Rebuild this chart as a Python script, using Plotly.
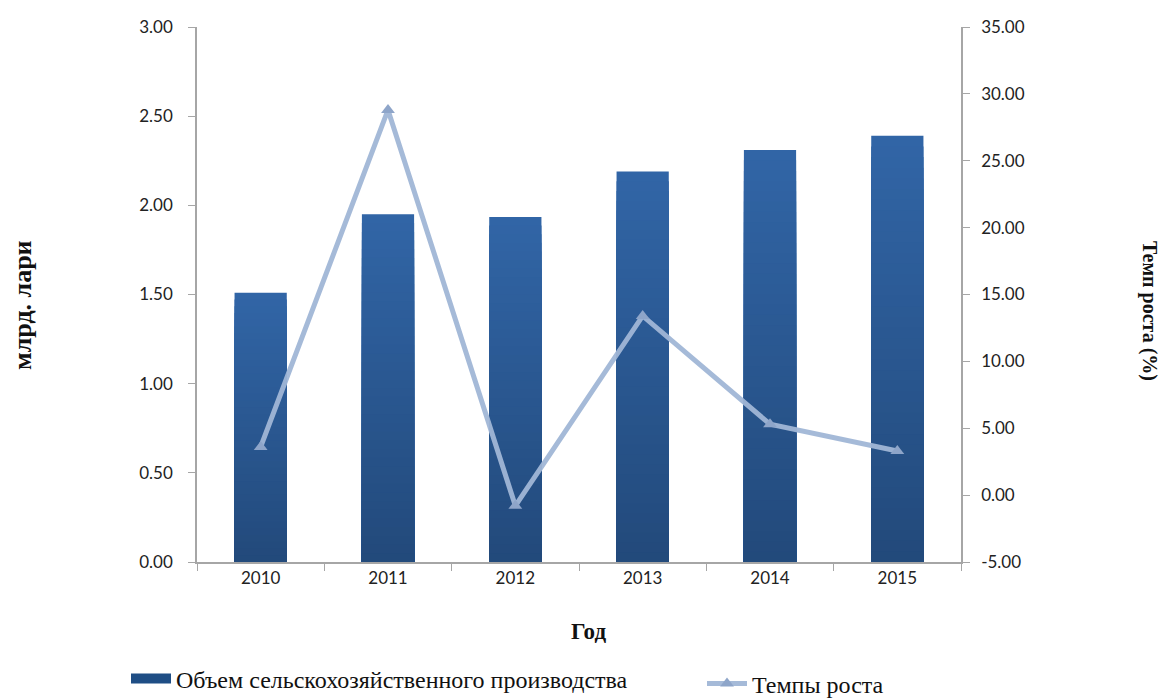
import plotly.graph_objects as go

# Agricultural output (bn GEL) and its annual growth rate (%)
years = ["2010", "2011", "2012", "2013", "2014", "2015"]
output_bn = [1.51, 1.95, 1.935, 2.19, 2.31, 2.39]
growth_pct = [3.6, 28.8, -0.8, 13.4, 5.3, 3.3]

left_ticks = [0, 0.5, 1.0, 1.5, 2.0, 2.5, 3.0]
right_ticks = [-5, 0, 5, 10, 15, 20, 25, 30, 35]

TOP = (49, 101, 166)
BOTTOM = (34, 73, 122)
STEPS = 40


def mix(t):
    r, g, b = (round(BOTTOM[i] + (TOP[i] - BOTTOM[i]) * t) for i in range(3))
    return f"rgb({r},{g},{b})"


fig = go.Figure()

# Vertical gradient on the bars: overlay progressively shorter, darker bars
for k in range(STEPS, 0, -1):
    frac = k / STEPS
    fig.add_trace(go.Bar(
        x=years,
        y=[v * frac for v in output_bn],
        marker=dict(color=mix(frac), line=dict(width=0)),
        width=0.41,
        name="Объем сельскохозяйственного производства",
        showlegend=False,
        hoverinfo="skip" if k != STEPS else None,
        yaxis="y",
    ))

# Legend swatch for the bar series (wide rectangle)
fig.add_trace(go.Scatter(
    x=[None], y=[None],
    mode="lines",
    name="Объем сельскохозяйственного производства",
    line=dict(color="#1F4E85", width=14),
    legend="legend",
    hoverinfo="skip",
))

fig.add_trace(go.Scatter(
    x=years,
    y=growth_pct,
    mode="lines+markers",
    name="Темпы роста",
    line=dict(color="rgba(160,182,214,0.95)", width=5),
    marker=dict(symbol="triangle-up", size=12, color="#8EA5C9"),
    legend="legend2",
    yaxis="y2",
))

tick_font = dict(family="Lato, Open Sans, sans-serif", size=17, color="#222222")
legend_font = dict(family="Liberation Serif, serif", size=24, color="#111111")
axis_col = "#A6A6A6"

fig.update_layout(
    width=1165,
    height=700,
    margin=dict(l=197, r=204, t=27, b=138, autoexpand=False),
    paper_bgcolor="white",
    plot_bgcolor="white",
    barmode="overlay",
    showlegend=True,
    xaxis=dict(
        type="category",
        range=[-0.5, 5.5],
        showgrid=False,
        showline=True,
        linecolor=axis_col,
        linewidth=1.5,
        ticks="outside",
        tickson="boundaries",
        ticklen=7,
        tickcolor=axis_col,
        tickfont=tick_font,
        zeroline=False,
    ),
    yaxis=dict(
        range=[0, 3],
        tickvals=left_ticks,
        ticktext=[f"{v:.2f}" for v in left_ticks],
        showgrid=False,
        zeroline=False,
        showline=True,
        linecolor=axis_col,
        linewidth=1.5,
        ticks="outside",
        ticklen=7,
        tickcolor=axis_col,
        tickfont=tick_font,
        ticklabelstandoff=12,
    ),
    yaxis2=dict(
        range=[-5, 35],
        tickvals=right_ticks,
        ticktext=[f"{v:.2f}" for v in right_ticks],
        overlaying="y",
        side="right",
        showgrid=False,
        zeroline=False,
        showline=True,
        linecolor=axis_col,
        linewidth=1.5,
        ticks="outside",
        ticklen=7,
        tickcolor=axis_col,
        tickfont=tick_font,
        ticklabelstandoff=8,
    ),
    legend=dict(
        orientation="h",
        x=(126 - 197) / 764,
        xanchor="left",
        y=(562 - 679) / 535,
        yanchor="middle",
        font=legend_font,
        itemwidth=40,
        bgcolor="rgba(0,0,0,0)",
    ),
    legend2=dict(
        orientation="h",
        x=(702 - 197) / 764,
        xanchor="left",
        y=(562 - 684) / 535,
        yanchor="middle",
        font=legend_font,
        itemwidth=40,
        bgcolor="rgba(0,0,0,0)",
    ),
    annotations=[
        dict(text="<b>млрд. лари</b>", textangle=-90, xref="paper", yref="paper",
             x=(22 - 197) / 764, y=(562 - 305) / 535, showarrow=False,
             xanchor="center", yanchor="middle",
             font=dict(family="Liberation Serif, serif", size=26, color="#111111")),
        dict(text="<b>Темп роста (%)</b>", textangle=90, xref="paper", yref="paper",
             x=(1149 - 197) / 764, y=(562 - 311) / 535, showarrow=False,
             xanchor="center", yanchor="middle",
             font=dict(family="Liberation Serif, serif", size=20, color="#111111")),
        dict(text="<b>Год</b>", xref="paper", yref="paper",
             x=(588 - 197) / 764, y=(562 - 631) / 535, showarrow=False,
             xanchor="center", yanchor="middle",
             font=dict(family="Liberation Serif, serif", size=23, color="#111111")),
    ],
)

fig.write_html("out.html")
